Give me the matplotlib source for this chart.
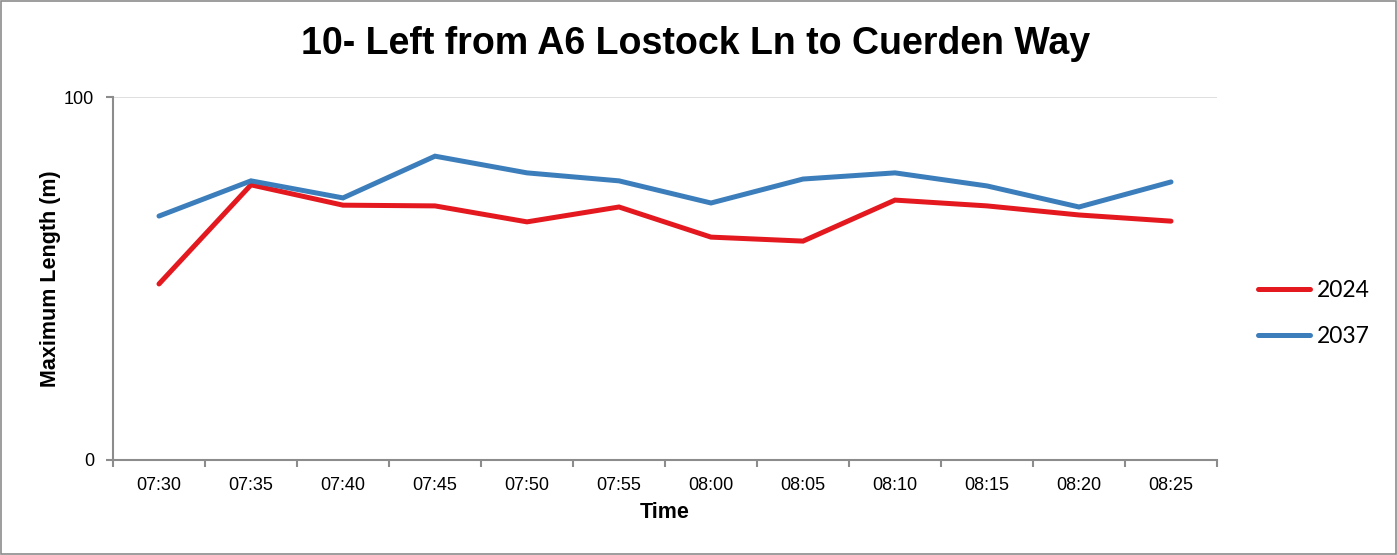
import matplotlib
matplotlib.use("Agg")
import matplotlib.pyplot as plt
from matplotlib.patches import Rectangle

times = ["07:30", "07:35", "07:40", "07:45", "07:50", "07:55",
         "08:00", "08:05", "08:10", "08:15", "08:20", "08:25"]
series_2024 = [48.5, 75.8, 70.2, 70.0, 65.6, 69.7, 61.4, 60.3, 71.6, 70.0, 67.5, 65.8]
series_2037 = [67.2, 76.9, 72.2, 83.7, 79.1, 76.9, 70.8, 77.4, 79.1, 75.5, 69.7, 76.6]
labels = ["2024", "2037"]
colors = ["#E3191F", "#3C7EBB"]

fig = plt.figure(figsize=(13.97, 5.55), dpi=100)
fig.patches.append(Rectangle((0.0005, 0.001), 0.999, 0.997, transform=fig.transFigure,
                             fill=False, edgecolor="#8c8c8c", linewidth=1.2))
ax = fig.add_axes([113/1397, 1-460/555, (1217-113)/1397, (460-97)/555])

x = list(range(len(times)))
ax.plot(x, series_2024, color=colors[0], lw=3.6, solid_capstyle="round", solid_joinstyle="miter", label=labels[0])
ax.plot(x, series_2037, color=colors[1], lw=3.6, solid_capstyle="round", solid_joinstyle="miter", label=labels[1])

ax.set_xlim(-0.5, len(times) - 0.5)
ax.set_ylim(0, 100)
ax.set_yticks([0, 100])
ax.set_yticklabels(["0", "100"], fontsize=13, family="Liberation Sans")
ax.set_xticks(x)
ax.set_xticklabels(times, fontsize=13, family="Liberation Sans")
ax.set_xticks([i - 0.5 for i in range(len(times) + 1)], minor=True)
ax.tick_params(axis="x", which="major", length=0, pad=12)
ax.tick_params(axis="x", which="minor", length=5, color="#8c8c8c", width=1.5, direction="out")
ax.tick_params(axis="y", length=5, color="#8c8c8c", width=1.5, direction="out", pad=8.5)
ax.axhline(100, color="#d9d9d9", lw=1.2, zorder=0)

for s in ["top", "right"]:
    ax.spines[s].set_visible(False)
for s in ["left", "bottom"]:
    ax.spines[s].set_color("#8c8c8c")
    ax.spines[s].set_linewidth(1.5)

ax.set_xlabel("Time", fontsize=15.5, fontweight="bold", family="Liberation Sans", labelpad=6)
ax.set_ylabel("Maximum Length (m)", fontsize=15.5, fontweight="bold", family="Liberation Sans", labelpad=2.5)
fig.suptitle("10- Left from A6 Lostock Ln to Cuerden Way", x=0.498, y=1-26/555, va="top",
             fontsize=27, fontweight="bold", family="Liberation Sans")

leg = fig.legend(loc="upper left", bbox_to_anchor=(1237/1397, 1-259/555), frameon=False,
                 prop={"family": "Lato", "size": 16.5}, handlelength=2.3, labelspacing=1.1,
                 handletextpad=0.3)

fig.savefig("out.png", dpi=100)
